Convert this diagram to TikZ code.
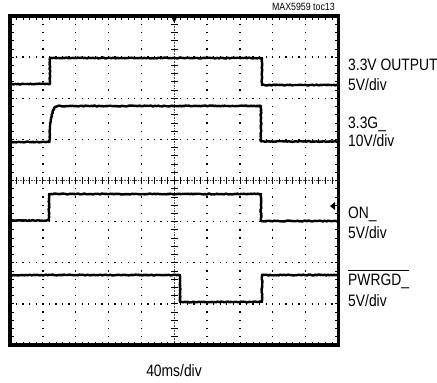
\documentclass[tikz,border=0pt]{standalone}
\usepackage{fontspec}
\usetikzlibrary{decorations.pathmorphing}
\newfontfamily\scopefont{Liberation Sans}[FakeStretch=0.84]

\tikzset{
  trace/.style={black,line width=2.4pt,line cap=butt,line join=round,
    decorate,decoration={random steps,segment length=1.2pt,amplitude=0.45pt}},
  vdots/.style={black,line width=1.3pt,dash pattern=on 1.3pt off 6.925pt,dash phase=0.65pt},
  hdots/.style={black,line width=1.3pt,dash pattern=on 1.3pt off 5.27pt,dash phase=0.65pt},
  axisline/.style={black!70,line width=0.6pt,dash pattern=on 0.8pt off 0.8pt},
  minortick/.style={black,line width=0.8pt},
  chlabel/.style={anchor=base west,inner sep=0pt,font=\scopefont\fontsize{16.5}{19}\selectfont},
}

\begin{document}
\begin{tikzpicture}[x=1pt,y=-1pt]
\pgfmathsetseed{5959}
\useasboundingbox (0,0) rectangle (437,383);
\def\xl{10} \def\xr{338.5} \def\yt{16} \def\yb{345}
\def\dx{32.85} \def\dy{41.125}
\def\xc{174.25} \def\yc{180.5}
% dotted grid
\foreach \i in {1,2,3,4,6,7,8,9}
  \draw [vdots] ({\xl+\i*\dx},\yt) -- ({\xl+\i*\dx},\yb);
\foreach \j in {1,2,3,5,6,7}
  \draw [hdots] (\xl,{\yt+\j*\dy}) -- (\xr,{\yt+\j*\dy});
% centre axes with minor ticks
\draw [axisline] (\xl,\yc) -- (\xr,\yc);
\draw [axisline] (\xc,\yt) -- (\xc,\yb);
\foreach \k in {1,...,49} {
  \draw [minortick] ({\xl+\k*\dx/5},{\yc-3.5}) -- ++(0,7);
  \draw [minortick] ({\xl+\k*\dx/5},\yt) -- ++(0,3.5);
  \draw [minortick] ({\xl+\k*\dx/5},\yb) -- ++(0,-3.5);
}
\foreach \k in {1,...,39} {
  \draw [minortick] ({\xc-3.5},{\yt+\k*\dy/5}) -- ++(7,0);
  \draw [minortick] (\xl,{\yt+\k*\dy/5}) -- ++(3.5,0);
  \draw [minortick] (\xr,{\yt+\k*\dy/5}) -- ++(-3.5,0);
}
% traces
\draw [trace] (\xl,84) -- (50,84) -- (50,58) -- (262,58) -- (262,85) -- (\xr,85);
\draw [trace] (\xl,142) -- (49.5,142) -- (50,128) .. controls (51.5,113) and (53.5,106.5) .. (58,106)
  -- (261,106) -- (261,141.5) -- (\xr,141.5);
\draw [trace] (\xl,220.5) -- (49,220.5) -- (49,194) -- (261,194) -- (261,221) -- (\xr,221);
\draw [trace] (\xl,275) -- (180,275) -- (180,302) -- (262,302) -- (262,275) -- (\xr,275);
% frame and markers
\draw [black,line width=3.5pt] (\xl,\yt) rectangle (\xr,\yb);
\fill [black] ({\xc-3.3},\yt) -- ({\xc+3.3},\yt) -- (\xc,23) -- cycle;
\fill [black] (330,206) -- (335,202) -- (335,210) -- cycle;
% labels
\node [anchor=base east,inner sep=0pt,font=\scopefont\fontsize{10.5}{12}\selectfont] (toc) at (335,10) {MAX5959 toc13};
\node [chlabel] (outname) at (348,70) {3.3V OUTPUT};
\node [chlabel] (outscale) at (348,90) {5V/div};
\node [chlabel] (gname) at (348,128) {3.3G\_};
\node [chlabel] (gscale) at (348,146.7) {10V/div};
\node [chlabel] (onname) at (348,218) {ON\_};
\node [chlabel] (onscale) at (348,238) {5V/div};
\node [chlabel] (pgname) at (348,285) {PWRGD\_};
\draw [black,line width=0.8pt] ([yshift=2.5pt]pgname.north west) -- ([yshift=2.5pt]pgname.north east);
\node [chlabel] (pgscale) at (348,306.7) {5V/div};
\node [chlabel,anchor=base] (timescale) at (174,376.5) {40ms/div};
\end{tikzpicture}
\end{document}
